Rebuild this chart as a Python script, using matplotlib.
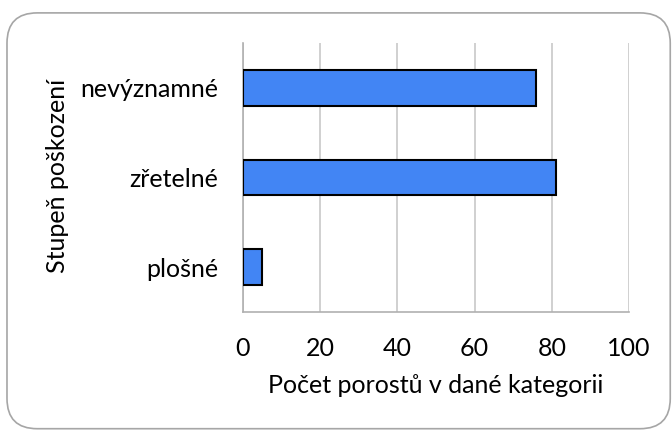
# Bar chart: stupeň poškození porostů
import matplotlib.pyplot as plt
from matplotlib.patches import FancyBboxPatch

categories = ['plošné', 'zřetelné', 'nevýznamné']
counts = [5, 81, 76]
x_ticks = [0, 20, 40, 60, 80, 100]

plt.rcParams['font.family'] = ['Lato', 'DejaVu Sans']

fig = plt.figure(figsize=(6.72, 4.30), dpi=100)
ax = fig.add_axes([0.3616, 0.2744, 0.5744, 0.6256])

# Rounded frame around the whole chart
frame = FancyBboxPatch((0.0104, 0.003), 0.987, 0.967, boxstyle='round,pad=0,rounding_size=0.045',
                       transform=fig.transFigure, facecolor='none', edgecolor='#a6a6a6',
                       linewidth=1.2, mutation_aspect=672 / 430)
fig.patches.append(frame)

ax.barh(range(len(categories)), counts, height=0.4, color='#4285f4', edgecolor='black', linewidth=1.5, zorder=3)

ax.set_xlim(0, 100)
ax.set_ylim(-0.5, 2.5)
ax.set_xticks(x_ticks)
ax.set_yticks(range(len(categories)))
ax.set_yticklabels(categories)
ax.grid(axis='x', color='#c8c8c8', linewidth=1.2, zorder=0)
ax.tick_params(length=0, labelsize=18)
ax.tick_params(axis='y', pad=18)
ax.tick_params(axis='x', pad=18)

for side in ['top', 'right']:
    ax.spines[side].set_visible(False)
for side in ['left', 'bottom']:
    ax.spines[side].set_color('#b0b0b0')
    ax.spines[side].set_linewidth(1.2)

ax.set_xlabel('Počet porostů v dané kategorii', fontsize=18, labelpad=10)
fig.text(0.085, 0.59, 'Stupeň poškození', rotation=90, fontsize=18, ha='center', va='center')

fig.savefig('out.png', dpi=100)
